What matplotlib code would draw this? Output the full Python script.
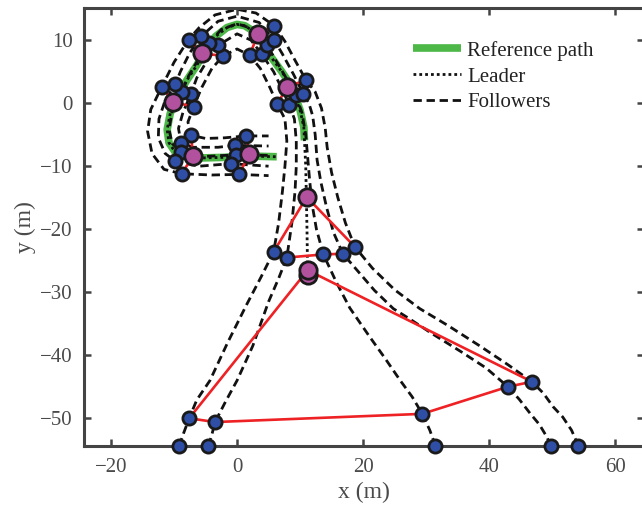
import matplotlib
matplotlib.use("Agg")
import matplotlib.pyplot as plt

# reference path (green)
ref_path = [(10.7, -5.9), (10.6, -3.8), (10.0, -1.1), (8.7, 2.6), (7.1, 5.0), (5.2, 7.6),
            (4.0, 9.8), (2.8, 11.3), (1.2, 12.3), (0.0, 12.5), (-1.6, 12.0), (-3.4, 10.6),
            (-5.0, 8.6), (-6.4, 6.0), (-8.0, 3.6), (-9.5, 1.0), (-10.6, -1.6), (-11.1, -4.2),
            (-10.8, -6.3), (-9.8, -7.8), (-8.3, -8.5), (-6.0, -8.7), (-2.0, -8.6), (2.0, -8.4),
            (6.3, -8.5)]

# leader trajectory (dotted)
leader_path = [(11.2, -27.3), (11.1, -20.0), (11.0, -14.9), (10.9, -10.0)] + ref_path

# follower trajectories (dashed)
follower1 = [(-9.2, -54.4), (-8.5, -52.4), (-7.6, -50.0), (-6.4, -47.1), (-4.3, -44.0), (-1.5, -38.0),
             (1.5, -32.0), (3.8, -27.6), (5.8, -23.6), (6.6, -19.0), (7.2, -14.0), (7.6, -10.0),
             (7.9, -6.0), (7.6, -2.5), (6.4, -0.2), (5.2, 2.5), (3.7, 5.5), (2.0, 7.6), (0.0, 8.6),
             (-2.2, 7.5), (-4.0, 5.5), (-5.6, 2.5), (-6.9, -0.6), (-7.8, -3.0), (-7.3, -5.1),
             (-5.0, -5.6), (-2.0, -5.5), (1.4, -5.2), (5.0, -5.2)]
follower2 = [(-4.55, -54.4), (-4.0, -52.6), (-3.5, -50.6), (-1.8, -47.3), (0.0, -44.0), (2.5, -38.5),
             (5.0, -31.5), (6.6, -27.8), (7.9, -24.5), (8.7, -19.0), (9.2, -14.0), (9.4, -10.0),
             (9.4, -6.0), (9.1, -2.5), (8.3, -0.3), (7.0, 2.5), (5.8, 5.0), (3.9, 7.8), (2.2, 10.0),
             (0.0, 11.0), (-2.96, 9.2), (-4.6, 7.0), (-6.4, 4.0), (-7.35, 1.4), (-8.6, -1.5),
             (-9.3, -4.0), (-8.9, -6.3), (-7.0, -7.0), (-3.0, -7.0), (-0.4, -6.7), (5.0, -6.8)]
follower3 = [(31.5, -54.4), (30.6, -51.9), (29.4, -49.3), (27.8, -46.6), (25.9, -44.0), (23.5, -40.5),
             (21.0, -37.0), (17.9, -32.5), (15.8, -28.5), (13.7, -24.0), (12.6, -20.0), (11.9, -16.0),
             (11.5, -12.0), (11.2, -8.5), (10.9, -5.0), (10.3, -1.5), (9.3, 1.3), (7.5, 4.5),
             (5.8, 7.4), (4.7, 9.3), (2.5, 11.8), (0.0, 12.6), (-2.5, 11.7), (-4.4, 9.6), (-6.0, 7.2),
             (-7.7, 4.3), (-8.8, 1.7), (-10.3, -1.2), (-10.8, -4.2), (-10.3, -6.4), (-8.9, -7.8),
             (-6.0, -8.5), (-0.2, -8.2), (5.5, -8.3)]
follower4 = [(49.8, -54.4), (49.2, -53.0), (48.0, -51.0), (46.5, -49.2), (44.8, -47.0), (43.0, -45.0),
             (39.5, -42.0), (35.5, -39.4), (31.0, -36.6), (27.5, -34.3), (24.8, -32.6), (21.8, -29.7),
             (19.3, -26.8), (16.8, -23.9), (15.3, -20.5), (14.2, -16.5), (13.3, -12.5), (12.7, -9.0),
             (12.4, -5.0), (12.0, -2.0), (11.4, 0.0), (10.5, 1.5), (9.0, 4.5), (7.2, 7.8), (5.9, 10.0),
             (3.5, 12.8), (0.0, 13.8), (-3.0, 13.0), (-5.7, 10.6), (-7.5, 8.0), (-9.0, 5.0),
             (-9.8, 3.0), (-11.4, 0.5), (-12.4, -2.5), (-12.5, -5.5), (-11.4, -8.0), (-9.8, -9.2),
             (-6.0, -10.0), (-1.0, -9.6), (5.0, -10.0)]
follower5 = [(54.2, -54.4), (53.1, -51.9), (51.7, -49.8), (50.2, -48.2), (48.6, -46.0), (46.8, -44.2),
             (43.0, -41.5), (38.5, -38.5), (33.5, -35.3), (29.0, -32.6), (25.0, -29.6), (21.5, -26.2),
             (18.7, -22.8), (17.2, -19.0), (16.0, -15.0), (15.0, -11.0), (14.3, -7.0), (14.0, -4.0),
             (13.4, -0.8), (12.4, 1.8), (10.95, 3.65), (9.2, 6.8), (7.6, 9.8), (5.9, 12.3), (3.0, 14.3),
             (0.0, 14.9), (-3.5, 14.0), (-6.0, 12.0), (-7.7, 10.1), (-10.0, 6.5), (-11.95, 2.6),
             (-13.7, -1.0), (-14.2, -4.5), (-13.5, -8.0), (-11.6, -10.5), (-8.8, -11.2),
             (-4.0, -11.4), (0.3, -11.3), (5.0, -11.5)]
followers = [follower1, follower2, follower3, follower4, follower5]

# formation snapshots: leader position, then followers 1..5
snapshots = [
    [(11.2, -26.5), (-7.6, -50.0), (-3.5, -50.6), (29.4, -49.3), (43.0, -45.0), (46.8, -44.2)],
    [(11.06, -14.9), (5.8, -23.6), (7.9, -24.5), (13.7, -24.0), (16.8, -23.9), (18.7, -22.8)],
    [(7.9, 2.6), (6.4, -0.2), (8.3, -0.3), (9.3, 1.3), (10.5, 1.5), (10.95, 3.65)],
    [(3.3, 10.95), (2.0, 7.6), (3.9, 7.8), (4.7, 9.3), (5.9, 10.0), (5.9, 12.3)],
    [(-5.5, 7.9), (-2.2, 7.5), (-2.96, 9.2), (-4.4, 9.6), (-5.7, 10.6), (-7.7, 10.1)],
    [(-10.1, 0.2), (-6.9, -0.6), (-7.35, 1.4), (-8.8, 1.7), (-9.8, 3.0), (-11.95, 2.6)],
    [(-7.0, -8.4), (-7.3, -5.1), (-8.9, -6.3), (-8.9, -7.8), (-9.8, -9.2), (-8.8, -11.2)],
    [(1.95, -8.1), (1.4, -5.2), (-0.4, -6.7), (-0.2, -8.2), (-1.0, -9.6), (0.3, -11.3)],
]
leader_start = (11.2, -27.3)

green = "#4DB848"
red = "#EE2124"
purple = "#B2519E"
blue = "#2E4FA5"
spine_col = "#444444"
text_col = "#4a4a4a"

plt.rcParams['font.family'] = ['Liberation Serif', 'DejaVu Serif']

fig = plt.figure(figsize=(6.42, 5.17), dpi=100)
ax = fig.add_axes([84 / 642, 71 / 517, 560 / 642, 438 / 517])

xs, ys = zip(*ref_path)
ax.plot(xs, ys, color=green, lw=5.5, solid_capstyle='butt', zorder=1, label="Reference path")

xs, ys = zip(*leader_path)
ax.plot(xs, ys, color="#111111", lw=2.0, ls=(0, (1.0, 1.1)), zorder=2, label="Leader")

for i, f in enumerate(followers):
    xs, ys = zip(*f)
    ax.plot(xs, ys, color="#111111", lw=2.0, ls=(0, (3.0, 1.7)), zorder=2,
            label="Followers" if i == 0 else None)

for snap in snapshots:
    ring = snap + [snap[0]]
    xs, ys = zip(*ring)
    ax.plot(xs, ys, color=red, lw=1.9, zorder=3)

# start markers
ax.plot(*leader_start, 'o', ms=12.5, mfc=purple, mec="#1a1a1a", mew=2, zorder=4)
for f in followers:
    ax.plot(*f[0], 'o', ms=9.5, mfc=blue, mec="#1a1a1a", mew=2, zorder=5, clip_on=False)

for snap in snapshots:
    for p in snap[1:]:
        ax.plot(*p, 'o', ms=9.5, mfc=blue, mec="#1a1a1a", mew=2, zorder=5)
    ax.plot(*snap[0], 'o', ms=12.5, mfc=purple, mec="#1a1a1a", mew=2, zorder=6)

ax.set_xlim(-24.3, 64.6)
ax.set_ylim(-54.4, 15.1)
ax.set_xticks([-20, 0, 20, 40, 60])
ax.set_yticks([-50, -40, -30, -20, -10, 0, 10])
ax.tick_params(direction='in', length=5, width=1.8, color=spine_col, labelcolor=text_col,
               labelsize=15, top=True, right=True)
ax.tick_params(axis='x', pad=9)
ax.tick_params(axis='y', pad=8)
for s in ax.spines.values():
    s.set_linewidth(2.2)
    s.set_color(spine_col)
ax.set_xlabel("x (m)", fontsize=17, color=text_col, labelpad=3)
ax.set_ylabel("y (m)", fontsize=17, color=text_col, labelpad=3)

leg = ax.legend(loc='upper left', bbox_to_anchor=(0.5875, 0.925), frameon=False, fontsize=15,
                handlelength=2.3, handletextpad=0.3, labelspacing=0.3, borderpad=0,
                borderaxespad=0)
for t in leg.get_texts():
    t.set_color("#222222")

fig.savefig("out.png", dpi=100)
